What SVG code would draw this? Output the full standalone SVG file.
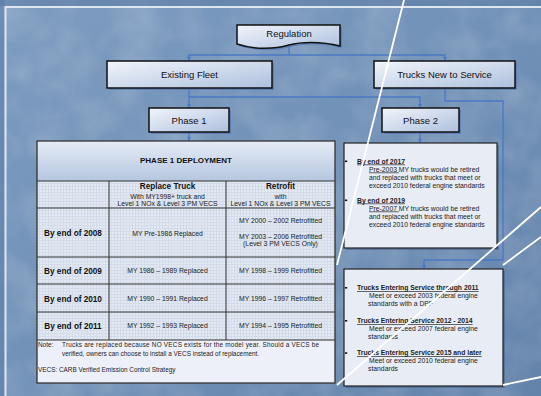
<svg xmlns="http://www.w3.org/2000/svg" width="541" height="396" viewBox="0 0 541 396">
<defs>
<linearGradient id="bg" x1="0" y1="0" x2="1" y2="1">
<stop offset="0" stop-color="#7e9cc0"/><stop offset="0.5" stop-color="#7191b7"/><stop offset="1" stop-color="#6483aa"/>
</linearGradient>
<filter id="tex" x="0" y="0" width="100%" height="100%">
<feTurbulence type="fractalNoise" baseFrequency="0.025" numOctaves="3" seed="4"/>
<feColorMatrix type="matrix" values="0 0 0 0 1  0 0 0 0 1  0 0 0 0 1  0.3 0 0 0 -0.1"/>
</filter>
<linearGradient id="node" x1="0" y1="0" x2="1" y2="1">
<stop offset="0" stop-color="#f2f5fb"/><stop offset="1" stop-color="#adc0dd"/>
</linearGradient>
<linearGradient id="title" x1="0" y1="0" x2="0" y2="1">
<stop offset="0" stop-color="#e6ecf6"/><stop offset="1" stop-color="#b4c6df"/>
</linearGradient>
<pattern id="grid" width="3" height="3" patternUnits="userSpaceOnUse">
<rect width="3" height="3" fill="#e3e9f2"/><path d="M0 0.5H3M0.5 0V3" stroke="#d3dce8" stroke-width="1"/>
</pattern>
<marker id="ah" markerWidth="5" markerHeight="5" refX="4.5" refY="2.25" orient="auto" markerUnits="userSpaceOnUse">
<path d="M0,0 L4.5,2.25 L0,4.5 Z" fill="#4a78c4"/>
</marker>
</defs>
<style>
.box{fill:url(#node);stroke:#111;stroke-width:1.5}
.shadow{fill:#4b70b0;opacity:0.55}
.lbl{font-family:"Liberation Sans",Arial,sans-serif;font-size:9.5px;fill:#111;text-anchor:middle}
.t{font-family:"Liberation Sans",Arial,sans-serif;font-size:6.8px;fill:#222}
.tc{text-anchor:middle}
.b{font-weight:bold}
.big{font-size:8.2px;fill:#111}
.cell{fill:url(#grid)}
.tl{stroke:#333;stroke-width:1;fill:none}
.conn path{fill:none;stroke:#4a78c4;stroke-width:1.3}
.deco{stroke:#fff;stroke-width:1.8;fill:none}
.u{text-decoration:underline}
.panel{fill:#e7ecf5;stroke:#222;stroke-width:1.2}
</style>

<!-- background -->
<rect width="541" height="396" fill="url(#bg)"/>
<rect width="541" height="396" filter="url(#tex)"/>
<rect x="0" y="0" width="541" height="6" fill="#5c7ca5" opacity="0.6"/>
<rect x="0" y="0" width="4.5" height="396" fill="#5c7ca5" opacity="0.6"/>
<rect x="5.5" y="7" width="600" height="500" fill="none" stroke="#dfe6ef" stroke-width="2"/>

<!-- connectors -->
<g id="connectors" class="conn">
<path d="M289,46 V55 H189 V61" marker-end="url(#ah)"/>
<path d="M289,55 H445 V61" marker-end="url(#ah)"/>
<path d="M189,88 V108" marker-end="url(#ah)"/>
<path d="M189,97 H420 V108" marker-end="url(#ah)"/>
<path d="M189,132 V141" marker-end="url(#ah)"/>
<path d="M420,132 V143" marker-end="url(#ah)"/>
<path d="M445,88 V101 H503 V260 H424 V269" marker-end="url(#ah)"/>
</g>

<!-- Regulation -->
<g id="regulation">
<path class="shadow" d="M239,27 H342 V48 C322,43 302,44 291,47 C277,51 257,52 239,46 Z"/>
<path class="box" d="M237,25 H340 V46 C320,41 300,42 289,45 C275,49 255,50 237,44 Z"/>
<text class="lbl" x="289" y="36.5">Regulation</text>
</g>

<g id="existing-fleet">
<rect class="shadow" x="109" y="63" width="165" height="27"/>
<rect class="box" x="107" y="61" width="165" height="27"/>
<text class="lbl" x="189.5" y="78">Existing Fleet</text>
</g>

<g id="trucks-new">
<rect class="shadow" x="376" y="63" width="141" height="27"/>
<rect class="box" x="374" y="61" width="141" height="27"/>
<text class="lbl" x="444.5" y="78">Trucks New to Service</text>
</g>

<g id="phase1">
<rect class="shadow" x="151" y="110" width="80" height="24"/>
<rect class="box" x="149" y="108" width="80" height="24"/>
<text class="lbl" x="189" y="123.5">Phase 1</text>
</g>

<g id="phase2">
<rect class="shadow" x="384" y="110" width="77" height="24"/>
<rect class="box" x="382" y="108" width="77" height="24"/>
<text class="lbl" x="420.5" y="123.5">Phase 2</text>
</g>

<!-- Phase 1 deployment table -->
<g id="phase1-table">
<rect x="37" y="141" width="298" height="40" fill="url(#title)"/>
<rect class="cell" x="37" y="181" width="298" height="159"/>
<rect x="37" y="340" width="298" height="43" fill="#eef0f9"/>
<rect x="37" y="141" width="298" height="242" fill="none" stroke="#333" stroke-width="1.3"/>
<path class="tl" d="M37,181H335M37,208H335M37,257H335M37,284H335M37,312H335M37,340H335M109,181V340M226,181V340"/>
<text class="t b tc" x="186" y="163" style="font-size:8px;fill:#111">PHASE 1 DEPLOYMENT</text>
<text class="t b tc big" x="167.5" y="189">Replace Truck</text>
<text class="t tc" x="167.5" y="198.5">With MY1998+ truck and</text>
<text class="t tc" x="167.5" y="206">Level 1 NOx &amp; Level 3 PM VECS</text>
<text class="t b tc big" x="280.5" y="189">Retrofit</text>
<text class="t tc" x="280.5" y="198.5">with</text>
<text class="t tc" x="280.5" y="206">Level 1 NOx &amp; Level 3 PM VECS</text>

<text class="t b tc big" x="73" y="236">By end of 2008</text>
<text class="t tc" x="167.5" y="235.5">MY Pre-1986 Replaced</text>
<text class="t tc" x="280.5" y="223">MY 2000 – 2002 Retrofitted</text>
<text class="t tc" x="280.5" y="238.5">MY 2003 – 2006 Retrofitted</text>
<text class="t tc" x="280.5" y="246">(Level 3 PM VECS Only)</text>

<text class="t b tc big" x="73" y="273.5">By end of 2009</text>
<text class="t tc" x="167.5" y="273">MY 1986 – 1989 Replaced</text>
<text class="t tc" x="280.5" y="273">MY 1998 – 1999 Retrofitted</text>

<text class="t b tc big" x="73" y="301.5">By end of 2010</text>
<text class="t tc" x="167.5" y="301">MY 1990 – 1991 Replaced</text>
<text class="t tc" x="280.5" y="301">MY 1996 – 1997 Retrofitted</text>

<text class="t b tc big" x="73" y="328.5">By end of 2011</text>
<text class="t tc" x="167.5" y="328">MY 1992 – 1993 Replaced</text>
<text class="t tc" x="280.5" y="328">MY 1994 – 1995 Retrofitted</text>

<text class="t" x="38" y="347" style="font-size:6.4px">Note:</text>
<text class="t" x="62" y="347" style="font-size:6.4px" textLength="257" lengthAdjust="spacing">Trucks are replaced because NO VECS exists for the model year.  Should a VECS be</text>
<text class="t" x="62" y="356" style="font-size:6.4px">verified, owners can choose to install a VECS instead of replacement.</text>
<text class="t" x="38" y="372" style="font-size:6.4px">VECS:  CARB Verified Emission Control Strategy</text>
</g>

<!-- Phase 2 deployment panel -->
<g id="phase2-panel">
<rect x="346" y="145" width="153" height="105" fill="#3d5a86" opacity="0.5"/>
<rect class="panel" x="344" y="143" width="153" height="105"/>
<rect x="345" y="160.5" width="2.2" height="1.6" fill="#111"/>
<text class="t b u" x="357" y="163.5">By end of 2017</text>
<text class="t" x="369" y="171.5"><tspan class="u">Pre-2003 </tspan>MY trucks would be retired</text>
<text class="t" x="369" y="179.5">and replaced with trucks that meet or</text>
<text class="t" x="369" y="187.5">exceed 2010 federal engine standards</text>
<rect x="345" y="199.5" width="2.2" height="1.6" fill="#111"/>
<text class="t b u" x="357" y="202.5">By end of 2019</text>
<text class="t" x="369" y="210.5"><tspan class="u">Pre-2007 </tspan>MY trucks would be retired</text>
<text class="t" x="369" y="218.5">and replaced with trucks that meet or</text>
<text class="t" x="369" y="226.5">exceed 2010 federal engine standards</text>
</g>

<!-- New trucks panel -->
<g id="new-trucks-panel">
<rect x="346" y="271" width="159" height="117" fill="#3d5a86" opacity="0.5"/>
<rect class="panel" x="344" y="269" width="159" height="117"/>
<rect x="345" y="287" width="2.2" height="1.6" fill="#111"/>
<text class="t b u" x="357" y="290">Trucks Entering Service through 2011</text>
<text class="t" x="369" y="298">Meet or exceed 2003 federal engine</text>
<text class="t" x="368" y="305.5">standards with a DPF</text>
<rect x="345" y="320" width="2.2" height="1.6" fill="#111"/>
<text class="t b u" x="357" y="323">Trucks Entering Service 2012 - 2014</text>
<text class="t" x="369" y="331">Meet or exceed 2007 federal engine</text>
<text class="t" x="368" y="339">standards</text>
<rect x="345" y="352.3" width="2.2" height="1.6" fill="#111"/>
<text class="t b u" x="357" y="355.3">Trucks Entering Service 2015 and later</text>
<text class="t" x="369" y="363">Meet or exceed 2010 federal engine</text>
<text class="t" x="368" y="371">standards</text>
</g>

<!-- decorative white lines -->
<path class="deco" d="M404,0 L337,265"/>
<path class="deco" d="M541,207 L337,385"/>
<path class="deco" d="M541,237 L503,265"/>
<path class="deco" d="M503,385 L541,377"/>
</svg>
